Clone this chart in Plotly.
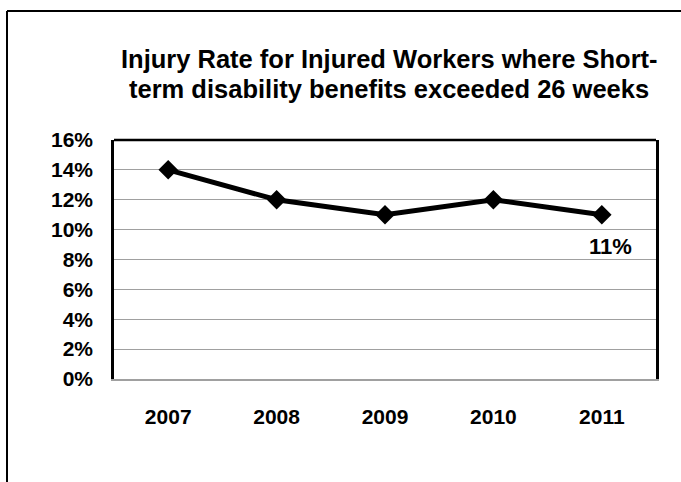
import plotly.graph_objects as go

years = ["2007", "2008", "2009", "2010", "2011"]
rates = [0.14, 0.12, 0.11, 0.12, 0.11]
label_text = "11%"
title_lines = ["Injury Rate for Injured Workers where Short-", "term disability benefits exceeded 26 weeks"]

W, H = 681, 482
L, R, T, B = 114, 25, 140, 103
pw, ph = W - L - R, H - T - B
FONT = "Liberation Sans, Arial, sans-serif"

fig = go.Figure()
fig.add_trace(go.Scatter(
    x=years, y=rates, mode="lines+markers",
    line=dict(color="black", width=5),
    marker=dict(symbol="diamond", size=15, color="black"),
    cliponaxis=False, showlegend=False,
))

fig.add_annotation(xref="x", yref="y", x=len(years) - 1, y=rates[-1],
                   text="<b>" + label_text + "</b>", showarrow=False,
                   yshift=-32, xshift=9, font=dict(size=22, color="black", family=FONT))

for line, cy in zip(title_lines, [58.5, 88.5]):
    fig.add_annotation(xref="paper", yref="paper", x=(389 - L) / pw, y=1 + (T - cy) / ph,
                       text="<b>" + line + "</b>",
                       showarrow=False, xanchor="center", yanchor="middle",
                       font=dict(size=25.5, color="black", family=FONT))

# outer chart border (left and top visible)
fig.add_shape(type="line", xref="paper", yref="paper",
              x0=(7 - L) / pw, x1=(7 - L) / pw, y0=1 + (T - 11) / ph, y1=-(B + 10) / ph,
              line=dict(color="black", width=2))
fig.add_shape(type="line", xref="paper", yref="paper",
              x0=(7 - L) / pw, x1=1 + (R + 10) / pw, y0=1 + (T - 11) / ph, y1=1 + (T - 11) / ph,
              line=dict(color="black", width=2))
# plot area top border
fig.add_shape(type="line", xref="paper", yref="paper", x0=0, x1=1, y0=1, y1=1,
              line=dict(color="black", width=2.5))

fig.update_layout(
    width=W, height=H, margin=dict(l=L, r=R, t=T, b=B),
    paper_bgcolor="white", plot_bgcolor="white",
    font=dict(family=FONT, color="black", size=21),
    xaxis=dict(type="category", range=[-0.5, 4.5], showgrid=False,
               showline=True, linecolor="#a0a0a0", linewidth=2,
               tickfont=dict(size=21, weight="bold"), ticks="", ticklabelstandoff=18,
               tickvals=years, ticktext=years),
    yaxis=dict(range=[0, 0.16], dtick=0.02, tickformat=".0%",
               showgrid=True, gridcolor="#a0a0a0", gridwidth=1,
               showline=True, linecolor="black", linewidth=2.5, mirror=True,
               zeroline=False, ticks="", ticklabelstandoff=14,
               tickfont=dict(size=21, weight="bold")),
)

fig.write_html("out.html")
